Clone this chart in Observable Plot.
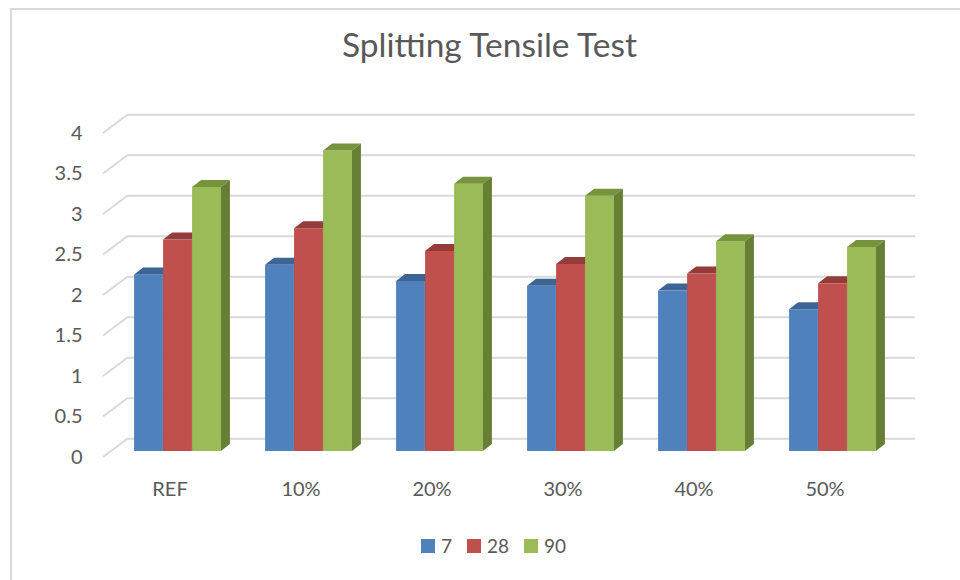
<!DOCTYPE html>
<html>
<head>
<meta charset="utf-8">
<script src="https://cdn.jsdelivr.net/npm/d3@7"></script>
<script src="https://cdn.jsdelivr.net/npm/@observablehq/plot@0.6"></script>
<style>
  html, body { margin: 0; padding: 0; background: #fff; }
  body { width: 960px; height: 580px; position: relative; overflow: hidden; font-family: Lato, sans-serif; color: #595959; }
  #title { width: 960px; height: 90px; box-sizing: border-box; padding-top: 24px; padding-left: 19px; text-align: center; font-size: 33.5px; line-height: 40px; }
  #chart { height: 420px; }
  #legend { position: relative; height: 70px; }
  #legend .items { position: absolute; left: 421px; top: 29px; display: flex; align-items: center; }
  #legend .sw { width: 14px; height: 14px; margin-right: 6px; }
  #legend .lb { font-size: 19px; line-height: 14px; margin-right: 15px; }
  .bt { position: absolute; left: 10px; top: 8px; width: 950px; height: 2px; background: #d9d9d9; }
  .bl { position: absolute; left: 10px; top: 8px; width: 2px; height: 572px; background: #d9d9d9; }
</style>
</head>
<body>
<div class="bt"></div><div class="bl"></div>
<div id="title">Splitting Tensile Test</div>
<div id="chart"></div>
<div id="legend"></div>
<script>
const categories = ["REF", "10%", "20%", "30%", "40%", "50%"];
const seriesNames = ["7", "28", "90"];
const s7  = [2.18, 2.30, 2.10, 2.04, 1.98, 1.75];
const s28 = [2.61, 2.75, 2.47, 2.31, 2.19, 2.07];
const s90 = [3.26, 3.71, 3.30, 3.15, 2.59, 2.52];
const yTicks = [0, 0.5, 1, 1.5, 2, 2.5, 3, 3.5, 4];
const frontColors = ["#4F81BD", "#C0504D", "#9BBB59"];
const topColors   = ["#3C6596", "#943C3A", "#77933C"];
const sideColors  = ["#385D8A", "#8A3836", "#667F35"];

const seriesValues = [s7, s28, s90];
const NS = "http://www.w3.org/2000/svg";

function faces(topFill, sideFill) {
  return (index, scales, values, dims, ctx, next) => {
    const g = next(index, scales, values, dims, ctx);
    const doc = (ctx && ctx.document) || document;
    const ddx = 9, ddy = 7;
    for (const r of Array.from(g.querySelectorAll("rect"))) {
      const x = +r.getAttribute("x"), y = +r.getAttribute("y");
      const w = +r.getAttribute("width"), h = +r.getAttribute("height");
      const top = doc.createElementNS(NS, "polygon");
      top.setAttribute("points", `${x},${y} ${x + w},${y} ${x + w + ddx},${y - ddy} ${x + ddx},${y - ddy}`);
      top.setAttribute("fill", topFill);
      const side = doc.createElementNS(NS, "polygon");
      side.setAttribute("points", `${x + w},${y} ${x + w + ddx},${y - ddy} ${x + w + ddx},${y + h - ddy} ${x + w},${y + h}`);
      side.setAttribute("fill", sideFill);
      r.parentNode.appendChild(top);
      r.parentNode.appendChild(side);
    }
    return g;
  };
}

function wallLines(index, scales, values, dims, ctx) {
  const doc = (ctx && ctx.document) || document;
  const g = doc.createElementNS(NS, "g");
  for (const i of index) {
    const y = scales.y(yTicks[i]);
    const l = doc.createElementNS(NS, "line");
    l.setAttribute("x1", dims.marginLeft - 8);
    l.setAttribute("y1", y + 6);
    l.setAttribute("x2", dims.marginLeft + 17);
    l.setAttribute("y2", y - 12.7);
    l.setAttribute("stroke", "#d9d9d9");
    l.setAttribute("stroke-width", 2);
    g.appendChild(l);
  }
  return g;
}

const bw = 29;
const marks = [
  Plot.ruleY(yTicks, {dx: 17, dy: -12.7, stroke: "#d9d9d9", strokeWidth: 2}),
  Plot.ruleY(yTicks, {render: wallLines})
];
const offsets = [-bw, 0, bw];
seriesValues.forEach((vals, j) => {
  const data = categories.map((c, i) => ({category: c, value: vals[i]}));
  marks.push(Plot.barY(data, {
    x: "category", y: "value", fill: frontColors[j],
    dx: offsets[j],
    insetLeft: (131.17 - bw) / 2, insetRight: (131.17 - bw) / 2,
    render: faces(topColors[j], sideColors[j])
  }));
});
marks.push(Plot.axisY(yTicks, {tickSize: 0, tickPadding: 29, dy: 6, fontSize: 20, tickFormat: d => String(d)}));
marks.push(Plot.axisX({tickSize: 0, tickPadding: 30, dx: -8, fontSize: 20}));

const chart = Plot.plot({
  width: 960,
  height: 420,
  marginLeft: 111,
  marginRight: 62,
  marginTop: 37,
  marginBottom: 59,
  x: {domain: categories, padding: 0, label: null},
  y: {domain: [0, 4], label: null},
  style: {fontFamily: "Lato, sans-serif", fontSize: "20px", color: "#595959", background: "transparent", overflow: "visible"},
  marks
});
document.getElementById("chart").appendChild(chart);

const leg = document.createElement("div");
leg.className = "items";
seriesNames.forEach((n, j) => {
  const sw = document.createElement("div");
  sw.className = "sw"; sw.style.background = frontColors[j];
  const lb = document.createElement("div");
  lb.className = "lb"; lb.textContent = n;
  leg.appendChild(sw); leg.appendChild(lb);
});
document.getElementById("legend").appendChild(leg);
</script>
</body>
</html>
